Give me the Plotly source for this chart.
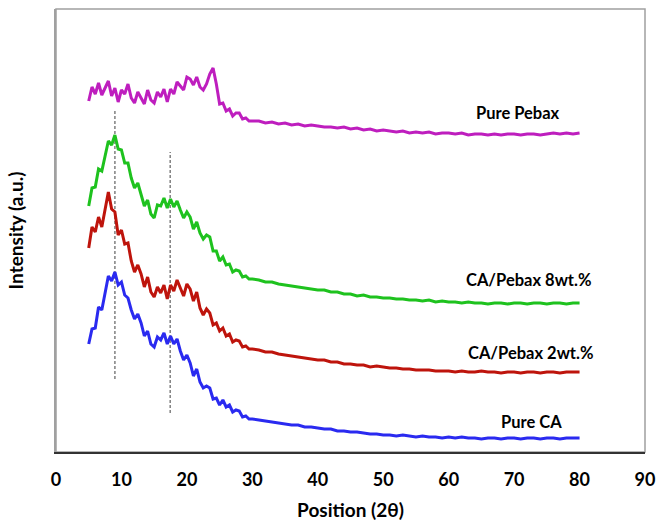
import plotly.graph_objects as go

# 2-theta sampling positions
X_FINE = [5.0, 5.5, 6.0, 6.5, 7.0, 7.5, 8.0, 8.5, 9.0, 9.5, 10.0, 10.5, 11.0, 11.5, 12.0, 12.5,
          13.0, 13.5, 14.0, 14.5, 15.0, 15.5, 16.0, 16.5, 17.0, 17.5, 18.0, 18.5, 19.0, 19.5,
          20.0, 20.5, 21.0, 21.5, 22.0, 22.5, 23.0, 23.5, 24.0, 24.5, 25.0, 25.5, 26.0, 26.5,
          27.0, 27.5, 28.0, 28.5, 29.0, 29.5, 30.0]
X_COARSE = [31, 32, 33, 34, 35, 36, 37, 38, 39, 40, 41, 42, 43, 44, 45, 46, 47, 48, 49, 50,
            51, 52, 53, 54, 55, 56, 57, 58, 59, 60, 61, 62, 63, 64, 65, 66, 67, 68, 69, 70,
            71, 72, 73, 74, 75, 76, 77, 78, 79, 80]

# Intensities (a.u., stacked/offset as in the figure)
PEBAX_FINE = [351, 365, 358, 369, 357, 364, 371, 356, 364, 350, 362, 358, 368, 354, 349, 360,
              354, 348, 362, 352, 349, 360, 355, 363, 350, 363, 358, 370, 366, 362, 375, 373,
              367, 375, 365, 362, 368, 378, 384, 368, 348, 349, 341, 343, 336, 339, 339, 333,
              334, 331, 331]
PEBAX_COARSE = [331, 329, 330, 328, 329, 327, 328, 326, 327, 326, 325, 325, 324, 325, 323, 324,
                322, 323, 321, 322, 321, 320, 321, 319, 320, 319, 320, 318, 319, 319, 318, 319,
                317, 318, 318, 317, 318, 317, 318, 318, 317, 318, 318, 317, 318, 319, 318, 319,
                318, 319]

P8_FINE = [246, 264, 265, 283, 281, 296, 311, 307, 317, 303, 302, 289, 289, 274, 264, 269,
           257, 246, 252, 238, 234, 247, 246, 254, 244, 253, 245, 251, 242, 234, 240, 235,
           223, 230, 219, 213, 217, 215, 201, 201, 191, 195, 187, 188, 180, 182, 181, 175,
           176, 173, 173]
P8_COARSE = [172, 170, 170, 168, 167, 166, 165, 164, 163, 162, 162, 160, 160, 158, 158, 156,
             157, 155, 155, 154, 154, 153, 153, 152, 152, 151, 152, 150, 151, 150, 150, 149,
             150, 149, 149, 148, 149, 149, 148, 149, 149, 148, 149, 149, 148, 149, 149, 148,
             149, 149]

P2_FINE = [204, 225, 220, 235, 225, 241, 260, 243, 240, 217, 222, 208, 209, 191, 180, 187,
           178, 165, 175, 160, 155, 165, 159, 167, 153, 167, 161, 172, 164, 156, 168, 163,
           151, 160, 144, 137, 143, 139, 127, 129, 121, 124, 116, 118, 110, 112, 111, 105,
           106, 103, 103]
P2_COARSE = [102, 100, 100, 98, 97, 96, 95, 94, 93, 92, 92, 90, 90, 88, 88, 87,
             87, 85, 86, 85, 84, 84, 83, 83, 82, 82, 82, 81, 81, 81, 80, 81,
             80, 80, 81, 80, 80, 79, 80, 80, 79, 80, 80, 79, 80, 80, 79, 80,
             80, 80]

CA_FINE = [108, 123, 124, 145, 142, 161, 176, 171, 180, 167, 170, 157, 154, 142, 133, 138,
           129, 116, 121, 108, 105, 115, 112, 119, 108, 116, 108, 113, 101, 92, 97, 89,
           76, 83, 70, 64, 66, 64, 53, 54, 47, 52, 45, 47, 40, 42, 41, 35,
           36, 33, 33]
CA_COARSE = [32, 31, 30, 29, 28, 27, 27, 25, 25, 24, 23, 23, 21, 21, 20, 20,
             19, 18, 18, 17, 17, 16, 17, 16, 15, 16, 15, 15, 14, 15, 14, 15,
             14, 14, 13, 14, 14, 13, 14, 14, 13, 14, 14, 13, 14, 14, 13, 14,
             14, 14]

SERIES_NAMES = ["Pure Pebax", "CA/Pebax 8wt.%", "CA/Pebax 2wt.%", "Pure CA"]
SERIES_COLORS = ["#BE1EBE", "#1EC21E", "#BE140C", "#2A2AF0"]

# Label positions (x, intensity)
LABEL_X = [70.6, 72.2, 72.5, 72.7]
LABEL_Y = [339, 172, 99, 30]

# Dashed reference lines at the CA peaks
REF_X = [9.0, 17.45]
REF_TOP = [341, 300]
REF_BOTTOM = [73, 39]

X_TICKS = [0, 10, 20, 30, 40, 50, 60, 70, 80, 90]

x_all = X_FINE + X_COARSE
series = [PEBAX_FINE + PEBAX_COARSE, P8_FINE + P8_COARSE, P2_FINE + P2_COARSE, CA_FINE + CA_COARSE]

fig = go.Figure()

for rx, rt, rb in zip(REF_X, REF_TOP, REF_BOTTOM):
    fig.add_trace(go.Scatter(x=[rx, rx], y=[rb, rt], mode="lines",
                             line=dict(color="#808080", width=1.5, dash="3px,2px"),
                             showlegend=False, hoverinfo="skip"))

for name, col, ys in zip(SERIES_NAMES, SERIES_COLORS, series):
    fig.add_trace(go.Scatter(x=x_all, y=ys, mode="lines", name=name,
                             line=dict(color=col, width=3), showlegend=False))

for name, lx, ly in zip(SERIES_NAMES, LABEL_X, LABEL_Y):
    fig.add_annotation(x=lx, y=ly, text=name, showarrow=False,
                       font=dict(family="Lato", size=16.5, color="#000000", weight="bold"))

# frame
fig.add_shape(type="rect", xref="paper", yref="paper", x0=0, x1=1, y0=0, y1=1,
              line=dict(color="#A0A0A0", width=1.5), layer="below")

fig.update_layout(
    width=657, height=521,
    margin=dict(l=56, r=12, t=9, b=69),
    paper_bgcolor="white", plot_bgcolor="white",
    font=dict(family="Lato", color="#000000"),
    xaxis=dict(range=[0, 90], tickvals=X_TICKS, showgrid=False, zeroline=False,
               showline=True, linecolor="#333333", linewidth=1.5, ticks="",
               ticklabelstandoff=11, automargin=False, ticklabeloverflow="allow",
               tickfont=dict(family="Lato", size=18, color="#000000", weight="bold"),
               title=dict(text="Position (2θ)", standoff=21,
                          font=dict(family="Lato", size=19, color="#000000", weight="bold"))),
    yaxis=dict(range=[0, 443], showticklabels=False, showgrid=False, zeroline=False,
               showline=True, linecolor="#A0A0A0", linewidth=1.5, ticks="",
               automargin=False,
               title=dict(text="Intensity (a.u.)", standoff=26,
                          font=dict(family="Lato", size=19, color="#000000", weight="bold"))),
)

fig.write_html("out.html")
